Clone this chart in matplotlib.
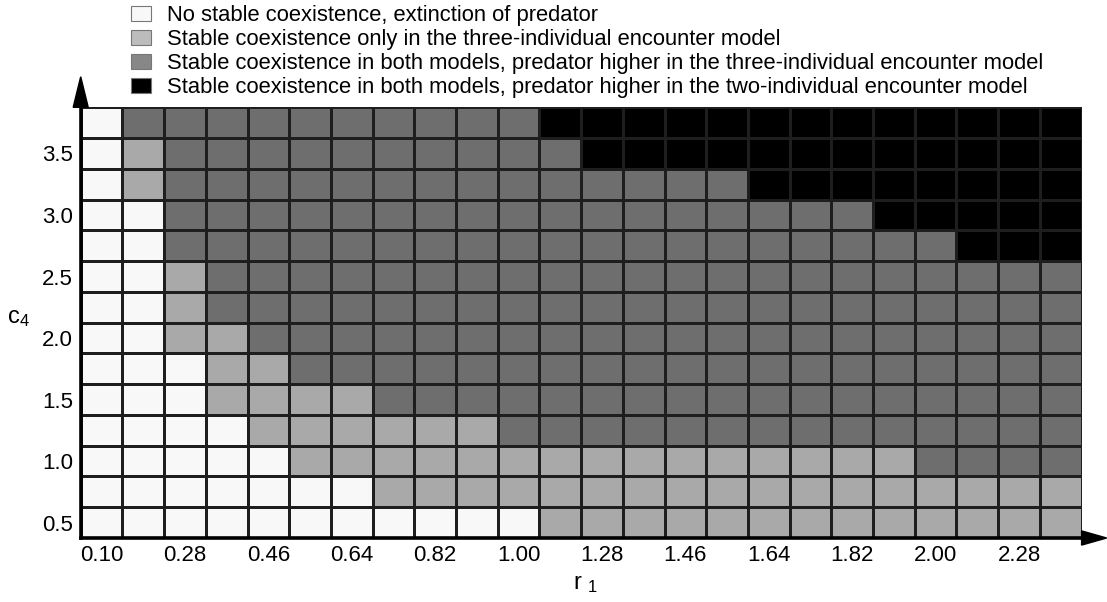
import numpy as np
import matplotlib
matplotlib.use("Agg")
import matplotlib.pyplot as plt
from matplotlib.colors import ListedColormap
from matplotlib.patches import Patch, Polygon

plt.rcParams['font.family'] = ['Liberation Sans', 'DejaVu Sans']
plt.rcParams['mathtext.fontset'] = 'custom'
plt.rcParams['mathtext.rm'] = 'Liberation Sans'
plt.rcParams['mathtext.it'] = 'Liberation Sans:italic'

# x axis: r1 (24 columns), y axis: c4 (14 rows, bottom to top)
r1_labels = ['0.10', '0.28', '0.46', '0.64', '0.82', '1.00',
             '1.28', '1.46', '1.64', '1.82', '2.00', '2.28']
c4_labels = ['0.5', '1.0', '1.5', '2.0', '2.5', '3.0', '3.5']

# 0 = extinction, 1 = three-individual only, 2 = both (three higher), 3 = both (two higher)
row_0  = [0]*11 + [1]*13
row_1  = [0]*7 + [1]*17
row_2  = [0]*5 + [1]*15 + [2]*4
row_3  = [0]*4 + [1]*6 + [2]*14
row_4  = [0]*3 + [1]*4 + [2]*17
row_5  = [0]*3 + [1]*2 + [2]*19
row_6  = [0]*2 + [1]*2 + [2]*20
row_7  = [0]*2 + [1]*1 + [2]*21
row_8  = [0]*2 + [1]*1 + [2]*21
row_9  = [0]*2 + [2]*19 + [3]*3
row_10 = [0]*2 + [2]*17 + [3]*5
row_11 = [0]*1 + [1]*1 + [2]*14 + [3]*8
row_12 = [0]*1 + [1]*1 + [2]*10 + [3]*12
row_13 = [0]*1 + [2]*10 + [3]*13
region = np.array([row_0, row_1, row_2, row_3, row_4, row_5, row_6,
                   row_7, row_8, row_9, row_10, row_11, row_12, row_13])

legend_labels = [
    'No stable coexistence, extinction of predator',
    'Stable coexistence only in the three-individual encounter model',
    'Stable coexistence in both models, predator higher in the three-individual encounter model',
    'Stable coexistence in both models, predator higher in the two-individual encounter model',
]
cell_colours = ['#f8f8f8', '#a9a9a9', '#6e6e6e', '#000000']
legend_colours = ['#f8f8f8', '#bcbcbc', '#878787', '#000000']

W, H = 1107, 602
fig = plt.figure(figsize=(W/100, H/100), dpi=100)
ax = fig.add_axes([80.7/W, 1 - 538/H, 1000.9/W, 430.7/H])

nrow, ncol = region.shape
ax.pcolormesh(np.arange(ncol + 1), np.arange(nrow + 1), region,
              cmap=ListedColormap(cell_colours), vmin=-0.5, vmax=3.5,
              edgecolors='#1e1e1e', linewidth=0.8)
ax.set_xlim(0, ncol)
ax.set_ylim(0, nrow)

ax.set_xticks(np.arange(0, ncol, 2) + 0.5, r1_labels)
ax.set_yticks(np.arange(0, nrow, 2) + 0.5, c4_labels)
ax.tick_params(axis='both', length=0, labelsize=16)
ax.tick_params(axis='x', pad=5)
ax.tick_params(axis='y', pad=5.5)

for s in ['top', 'right']:
    ax.spines[s].set_visible(False)
for s in ['left', 'bottom']:
    ax.spines[s].set_linewidth(2.6)
    ax.spines[s].set_color('black')
    ax.spines[s].set_zorder(5)

# arrow heads on the axes
up = Polygon([[-0.0075, 1.0], [0.0075, 1.0], [0.0, 1.071]], closed=True,
             transform=ax.transAxes, clip_on=False, color='black', zorder=6)
right = Polygon([[1.0, -0.0165], [1.0, 0.0165], [1.025, 0.0]], closed=True,
                transform=ax.transAxes, clip_on=False, color='black', zorder=6)
ax.add_patch(up)
ax.add_patch(right)

ax.set_xlabel('r $_1$', fontsize=17)
ax.xaxis.set_label_coords(0.504, -0.082)
ax.set_ylabel('c$_4$', fontsize=17, rotation=0, ha='center', va='center')
ax.yaxis.set_label_coords(-0.062, 0.51)

handles = [Patch(facecolor=c, edgecolor='#777777', linewidth=0.8) for c in legend_colours]
fig.legend(handles, legend_labels, loc='upper left', bbox_to_anchor=(131/W, 1 - 5/H),
           frameon=False, fontsize=15.8, borderpad=0, borderaxespad=0,
           handlelength=0.9, handleheight=0.7, handletextpad=0.75, labelspacing=0.14)

fig.savefig('out.png', dpi=100)
